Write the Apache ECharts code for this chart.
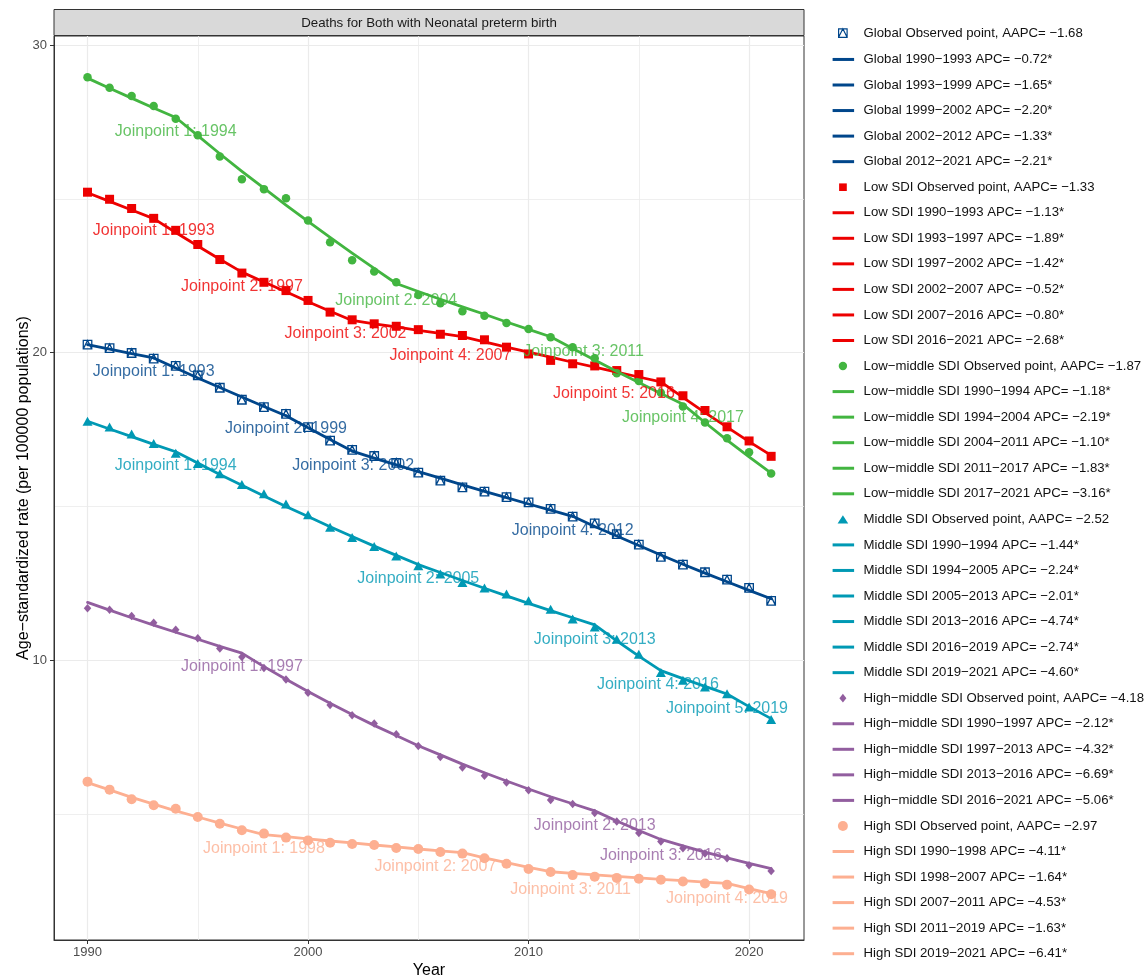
<!DOCTYPE html>
<html><head><meta charset="utf-8">
<script src="https://cdn.jsdelivr.net/npm/echarts@6/dist/echarts.min.js"></script>
<style>html,body{margin:0;padding:0;background:#fff}#c{width:1147px;height:977px}</style>
</head><body><div id="c"></div>
<script>
// ---------------- data ----------------
const years = [1990,1991,1992,1993,1994,1995,1996,1997,1998,1999,2000,2001,2002,2003,2004,2005,2006,2007,2008,2009,2010,2011,2012,2013,2014,2015,2016,2017,2018,2019,2020,2021];

// observed age-standardized rates
const globalObs  = [20.26,20.15,19.99,19.81,19.57,19.26,18.86,18.47,18.23,18.01,17.58,17.14,16.84,16.64,16.42,16.10,15.84,15.62,15.48,15.30,15.13,14.92,14.67,14.45,14.10,13.76,13.36,13.11,12.86,12.62,12.35,11.93];
const lowObs     = [25.22,24.99,24.69,24.37,23.98,23.52,23.03,22.59,22.29,22.02,21.70,21.32,21.07,20.94,20.86,20.75,20.60,20.56,20.42,20.18,19.96,19.75,19.64,19.57,19.42,19.29,19.05,18.60,18.12,17.59,17.13,16.63];
const lowMidObs  = [28.96,28.62,28.35,28.02,27.61,27.07,26.38,25.64,25.32,25.02,24.30,23.59,23.01,22.64,22.29,21.88,21.61,21.35,21.20,20.97,20.77,20.50,20.18,19.82,19.33,19.08,18.70,18.25,17.73,17.22,16.76,16.07];
const middleObs  = [17.77,17.58,17.36,17.05,16.73,16.40,16.06,15.71,15.41,15.08,14.73,14.32,13.99,13.70,13.39,13.07,12.80,12.53,12.35,12.15,11.93,11.66,11.34,11.08,10.68,10.19,9.60,9.35,9.13,8.91,8.48,8.07];
const highMidObs = [11.69,11.64,11.44,11.22,10.99,10.71,10.38,10.10,9.75,9.37,8.94,8.54,8.21,7.94,7.59,7.21,6.85,6.51,6.24,6.02,5.77,5.45,5.32,5.03,4.75,4.38,4.10,3.88,3.71,3.56,3.33,3.14];
const highObs    = [6.05,5.79,5.48,5.28,5.17,4.90,4.68,4.47,4.36,4.23,4.14,4.06,4.02,3.99,3.89,3.86,3.76,3.71,3.56,3.38,3.21,3.11,3.01,2.96,2.92,2.89,2.86,2.80,2.74,2.70,2.54,2.39];

// fitted joinpoint-model values, one per year
const globalFit  = [20.26,20.12,19.97,19.83,19.50,19.18,18.87,18.56,18.25,17.95,17.56,17.18,16.80,16.57,16.35,16.13,15.92,15.70,15.49,15.29,15.08,14.88,14.68,14.35,14.04,13.73,13.42,13.12,12.83,12.55,12.27,12.00];
const lowFit     = [25.20,24.92,24.64,24.36,23.91,23.47,23.04,22.62,22.30,21.98,21.66,21.35,21.05,20.94,20.84,20.73,20.63,20.52,20.35,20.18,20.02,19.86,19.69,19.53,19.37,19.21,19.05,18.55,18.05,17.58,17.11,16.66];
const lowMidFit  = [28.93,28.60,28.28,27.96,27.65,27.06,26.47,25.90,25.35,24.80,24.27,23.75,23.24,22.74,22.25,21.99,21.74,21.49,21.25,21.00,20.76,20.52,20.14,19.76,19.39,19.03,18.67,18.32,17.73,17.16,16.61,16.08];
const middleFit  = [17.77,17.52,17.27,17.02,16.78,16.41,16.04,15.69,15.34,15.00,14.67,14.34,14.02,13.71,13.41,13.11,12.85,12.59,12.34,12.09,11.85,11.61,11.38,11.15,10.63,10.13,9.66,9.40,9.15,8.90,8.49,8.10];
const highMidFit = [11.88,11.63,11.38,11.14,10.91,10.68,10.45,10.23,9.79,9.38,8.98,8.60,8.23,7.88,7.55,7.22,6.92,6.62,6.34,6.07,5.81,5.56,5.33,5.10,4.77,4.46,4.17,3.96,3.76,3.57,3.39,3.22];
const highFit    = [6.02,5.78,5.54,5.32,5.10,4.90,4.70,4.51,4.33,4.26,4.19,4.12,4.06,3.99,3.93,3.86,3.80,3.74,3.57,3.42,3.26,3.12,3.07,3.02,2.97,2.92,2.87,2.83,2.78,2.74,2.57,2.41];

// joinpoint years (segment boundaries), APC per segment, AAPC
const globalJpYears  = [1990,1993,1999,2002,2012,2021];
const globalApc      = ['−0.72*','−1.65*','−2.20*','−1.33*','−2.21*'];
const globalAapc     = '−1.68';
const lowJpYears     = [1990,1993,1997,2002,2007,2016,2021];
const lowApc         = ['−1.13*','−1.89*','−1.42*','−0.52*','−0.80*','−2.68*'];
const lowAapc        = '−1.33';
const lowMidJpYears  = [1990,1994,2004,2011,2017,2021];
const lowMidApc      = ['−1.18*','−2.19*','−1.10*','−1.83*','−3.16*'];
const lowMidAapc     = '−1.87';
const middleJpYears  = [1990,1994,2005,2013,2016,2019,2021];
const middleApc      = ['−1.44*','−2.24*','−2.01*','−4.74*','−2.74*','−4.60*'];
const middleAapc     = '−2.52';
const highMidJpYears = [1990,1997,2013,2016,2021];
const highMidApc     = ['−2.12*','−4.32*','−6.69*','−5.06*'];
const highMidAapc    = '−4.18';
const highJpYears    = [1990,1998,2007,2011,2019,2021];
const highApc        = ['−4.11*','−1.64*','−4.53*','−1.63*','−6.41*'];
const highAapc       = '−2.97';

const yTickLabels = [10,20,30];
const yMinorGrid  = [5,15,25];
const xTickLabels = [1990,2000,2010,2020];
const xMinorGrid  = [1995,2005,2015];

// ---------------- layout / style ----------------
const FONT = "'Liberation Sans', Arial, Helvetica, sans-serif";
const GRID = {left:54, top:36, width:750, height:904};
// pixel offsets of the "Joinpoint" labels from their joinpoint
const globalLabelOff  = [[0,13.6],[0,13],[1,14.5],[0,14]];
const lowLabelOff     = [[0,12],[0,14],[-6.6,13.5],[-12,19],[-47,12]];
const lowMidLabelOff  = [[0,14],[0,17],[33,15],[0,13]];
const middleLabelOff  = [[0,13.5],[0,13.6],[0,14.4],[-3,14],[0,15]];
const highMidLabelOff = [[0,13],[0,15],[0,16]];
const highLabelOff    = [[0,14],[-27,14],[20,17.7],[0,15]];

const A = 'M0,0M26,14'; // bbox anchors for legend icons (26 x 14 frame)
const LINE_ICON = 'path://' + A + 'M0,5.5H21.5V8.5H0Z';

const groups = [
  {name:'Global', color:'#00468B', obs:globalObs, fit:globalFit, jy:globalJpYears, apc:globalApc, aapc:globalAapc, off:globalLabelOff,
   symbol:'path://M0,0H10V10H0Z M0,10L5,0L10,10', size:8.5, hollow:true,
   icon:'path://' + A + 'M6,2.5H14.5V11H6Z M6,11L10.25,2.5L14.5,11'},
  {name:'Low SDI', color:'#ED0000', obs:lowObs, fit:lowFit, jy:lowJpYears, apc:lowApc, aapc:lowAapc, off:lowLabelOff,
   symbol:'rect', size:9, icon:'path://' + A + 'M6.5,3.2H14.2V10.8H6.5Z'},
  {name:'Low−middle SDI', color:'#42B540', obs:lowMidObs, fit:lowMidFit, jy:lowMidJpYears, apc:lowMidApc, aapc:lowMidAapc, off:lowMidLabelOff,
   symbol:'circle', size:8.5, icon:'path://' + A + 'M6.1,7A4.2,4.2 0 1,0 14.5,7A4.2,4.2 0 1,0 6.1,7Z'},
  {name:'Middle SDI', color:'#0099B4', obs:middleObs, fit:middleFit, jy:middleJpYears, apc:middleApc, aapc:middleAapc, off:middleLabelOff,
   symbol:'triangle', size:[10,9], icon:'path://' + A + 'M5,11.2L15.6,11.2L10.3,2.8Z'},
  {name:'High−middle SDI', color:'#925E9F', obs:highMidObs, fit:highMidFit, jy:highMidJpYears, apc:highMidApc, aapc:highMidAapc, off:highMidLabelOff,
   symbol:'diamond', size:[7.5,8.5], icon:'path://' + A + 'M10.3,2.6L13.8,7L10.3,11.4L6.8,7Z'},
  {name:'High SDI', color:'#FDAF91', obs:highObs, fit:highFit, jy:highJpYears, apc:highApc, aapc:highAapc, off:highLabelOff,
   symbol:'circle', size:10, icon:'path://' + A + 'M5.3,7A5,5 0 1,0 15.3,7A5,5 0 1,0 5.3,7Z'}
];

const series = [];
const legendData = [];
groups.forEach(g => {
  const obsName = g.name + ' Observed point, AAPC= ' + g.aapc;
  series.push({
    type:'scatter', name:obsName, data:years.map((y,i)=>[y,g.obs[i]]),
    symbol:g.symbol, symbolSize:g.size, z:2, silent:true,
    itemStyle: g.hollow ? {color:'rgba(0,0,0,0)', borderColor:g.color, borderWidth:1.3, opacity:1} : {color:g.color, opacity:1}
  });
  legendData.push(g.hollow
    ? {name:obsName, icon:g.icon, itemStyle:{color:'rgba(0,0,0,0)', borderColor:g.color, borderWidth:1.2}}
    : {name:obsName, icon:g.icon});
  for (let k = 0; k < g.jy.length - 1; k++) {
    const nm = g.name + ' ' + g.jy[k] + '−' + g.jy[k+1] + ' APC= ' + g.apc[k];
    const seg = [];
    years.forEach((y,i) => { if (y >= g.jy[k] && y <= g.jy[k+1]) seg.push([y, g.fit[i]]); });
    series.push({
      type:'line', name:nm, data:seg,
      symbol:'none', z:3, silent:true,
      lineStyle:{color:g.color, width:2.8, cap:'round', join:'round'}, itemStyle:{color:g.color}
    });
    legendData.push({name:nm, icon:LINE_ICON});
  }
  series.push({
    type:'scatter', name:g.name + ' joinpoint labels', z:5, silent:true,
    symbolSize:1, itemStyle:{color:'rgba(0,0,0,0)'},
    data:g.jy.slice(1,-1).map((y,k)=>({value:[y, g.fit[years.indexOf(y)]], label:{offset:g.off[k]}})),
    label:{show:true, position:'inside', align:'center', verticalAlign:'middle',
      formatter:p => 'Joinpoint ' + (p.dataIndex + 1) + ': ' + p.value[0],
      color:g.color, fontSize:16, fontFamily:FONT}
  });
});

const chart = echarts.init(document.getElementById('c'), null, {renderer:'canvas'});
chart.setOption({
  animation:false,
  backgroundColor:'#ffffff',
  textStyle:{fontFamily:FONT},
  grid:{left:GRID.left, top:GRID.top, width:GRID.width, height:GRID.height, containLabel:false, outerBoundsMode:'none',
        show:true, borderColor:'#333333', borderWidth:1, backgroundColor:'#ffffff'},
  legend:{
    orient:'vertical', left:832, top:25.7, padding:0,
    itemWidth:26, itemHeight:14, itemGap:11.55, selectedMode:false,
    itemStyle:{borderWidth:0},
    textStyle:{fontSize:13.2, color:'#111111', fontFamily:FONT},
    data:legendData
  },
  xAxis:[
    {type:'value', min:1988.48, max:2022.49,
     name:'Year', nameLocation:'middle', nameGap:23, nameMoveOverlap:false,
     nameTextStyle:{fontSize:16, color:'#000', fontFamily:FONT},
     axisLine:{show:true, lineStyle:{color:'#333333', width:1}},
     axisTick:{show:true, length:4, customValues:xTickLabels, lineStyle:{color:'#333333'}},
     axisLabel:{customValues:xTickLabels, formatter:v => String(v), fontSize:13, color:'#4D4D4D', margin:6, fontFamily:FONT},
     splitLine:{show:true, lineStyle:{color:'#EBEBEB', width:1.2}}},
    {type:'value', min:1988.48, max:2022.49, position:'bottom', gridIndex:0,
     axisLine:{show:false}, axisLabel:{show:false},
     axisTick:{show:false, customValues:xMinorGrid},
     splitLine:{show:true, lineStyle:{color:'#EBEBEB', width:0.8}}}
  ],
  yAxis:[
    {type:'value', min:0.9, max:30.3,
     name:'Age−standardized rate (per 100000 populations)', nameLocation:'middle', nameGap:22.5, nameMoveOverlap:false,
     nameTextStyle:{fontSize:16, color:'#000', fontFamily:FONT},
     axisLine:{show:true, lineStyle:{color:'#333333', width:1}},
     axisTick:{show:true, length:4, customValues:yTickLabels, lineStyle:{color:'#333333'}},
     axisLabel:{customValues:yTickLabels, formatter:v => String(v), fontSize:13, color:'#4D4D4D', margin:7, fontFamily:FONT},
     splitLine:{show:true, lineStyle:{color:'#EBEBEB', width:1.2}}},
    {type:'value', min:0.9, max:30.3, position:'left', gridIndex:0,
     axisLine:{show:false}, axisLabel:{show:false},
     axisTick:{show:false, customValues:yMinorGrid},
     splitLine:{show:true, lineStyle:{color:'#EBEBEB', width:0.8}}}
  ],
  graphic:[
    {type:'rect', x:GRID.left, y:9.5, shape:{x:0, y:0, width:GRID.width, height:26}, z:10,
     style:{fill:'#D9D9D9', stroke:'#333333', lineWidth:1}},
    {type:'text', x:GRID.left + GRID.width/2, y:23, z:11,
     style:{text:'Deaths for Both with Neonatal preterm birth', fill:'#1A1A1A', font:'13.3px ' + FONT, align:'center', verticalAlign:'middle'}}
  ],
  series:series
});
</script>
</body></html>
